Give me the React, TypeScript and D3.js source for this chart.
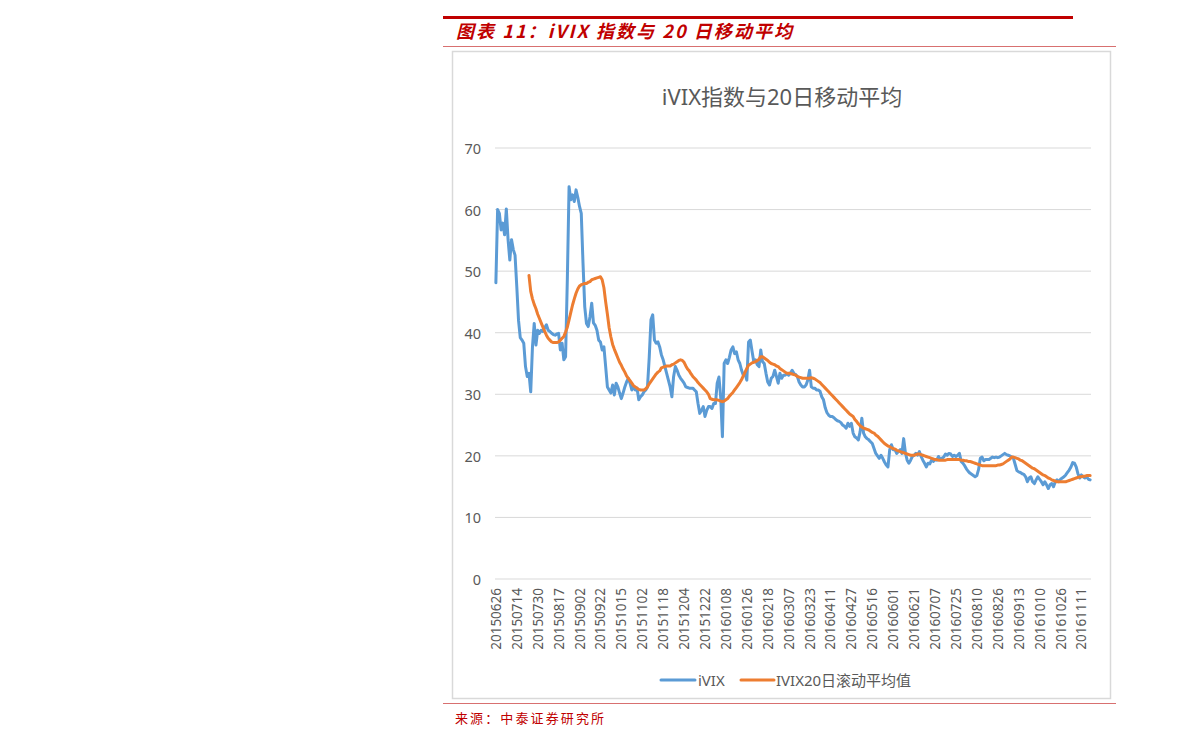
import React from 'react';
import * as d3 from 'd3';

// Category-axis labels (every 12th trading day is labelled)
const tickLabels = [
  '20150626', '20150714', '20150730', '20150817', '20150902', '20150922',
  '20151015', '20151102', '20151118', '20151204', '20151222', '20160108',
  '20160126', '20160218', '20160307', '20160323', '20160411', '20160427',
  '20160516', '20160601', '20160621', '20160707', '20160725', '20160810',
  '20160826', '20160913', '20161010', '20161026', '20161111',
];
const tickEvery = 12;

const yTicks = [0, 10, 20, 30, 40, 50, 60, 70];

// iVIX daily values
const ivix = [
  48.1, 60.0, 59.4, 56.7, 57.8, 55.9, 60.1, 55.1, 51.8, 55.1,
  53.5, 52.6, 47.5, 42.0, 39.2, 38.8, 38.3, 34.5, 32.9,
  33.4, 30.4, 37.7, 41.5, 38.0, 40.4, 39.9, 40.4, 40.2, 40.8,
  41.3, 40.4, 40.2, 39.9, 39.7, 39.6, 39.8, 39.9, 37.2,
  38.3, 35.6, 36.1, 48.6, 63.7, 61.6, 62.4, 61.3, 63.2, 62.0,
  60.5, 59.4, 51.3, 44.2, 41.5, 41.0, 42.6, 44.8, 41.6, 41.2,
  40.4, 38.8, 38.5, 37.2, 37.7, 34.5, 31.2, 30.7, 30.2,
  31.5, 29.9, 31.8, 31.2, 30.2, 29.3, 30.2, 31.2, 32.0, 32.6,
  31.8, 30.7, 31.2, 30.7, 31.0, 29.1, 29.6, 29.9, 30.4, 30.7,
  31.2, 36.0, 42.1, 42.9, 38.8, 38.3, 38.5, 37.7, 36.4,
  35.6, 34.5, 33.4, 32.3, 31.2, 29.6, 32.9, 34.5, 33.9, 33.1,
  32.6, 32.2, 31.8, 31.2, 31.1, 31.0, 31.0, 31.0, 30.7, 30.4,
  28.5, 26.9, 27.4, 28.0, 26.4, 27.4, 28.0, 28.0, 27.7,
  28.5, 28.5, 31.8, 32.8, 29.6, 23.1, 35.0, 35.6, 35.0, 36.0,
  37.2, 37.7, 36.6, 36.9, 35.6, 35.0, 33.9, 33.1, 33.4, 32.3,
  38.5, 38.8, 37.0, 35.3, 35.6, 34.8, 34.5, 37.2, 35.3,
  35.0, 33.4, 32.0, 31.5, 32.6, 32.9, 33.9, 32.9, 31.8, 33.4,
  32.6, 33.1, 33.1, 33.4, 33.1, 33.4, 33.9, 33.4, 33.2, 32.9,
  32.0, 31.5, 31.2, 31.2, 31.5, 32.3, 33.9, 31.2, 31.0,
  31.0, 30.7, 30.7, 30.5, 29.6, 29.1, 27.8, 27.0, 26.6, 26.4,
  26.4, 26.2, 25.9, 25.7, 25.6, 25.4, 25.0, 24.8, 24.5, 25.3,
  24.8, 25.3, 23.7, 23.1, 22.9, 22.6, 23.9, 26.1, 23.7,
  23.1, 22.8, 22.6, 22.3, 22.0, 21.2, 20.4, 20.0, 19.6, 20.1,
  19.6, 19.0, 18.5, 18.2, 21.0, 21.8, 21.0, 21.0, 20.4, 20.7,
  21.0, 20.4, 22.8, 20.5, 19.3, 18.8, 19.3, 19.9, 20.1,
  20.4, 20.1, 20.7, 19.9, 19.3, 18.8, 18.2, 18.8, 18.7, 19.3,
  19.1, 19.4, 19.3, 19.9, 19.4, 19.6, 19.8, 20.3, 20.1, 20.4,
  20.3, 19.9, 20.1, 19.9, 20.1, 20.4, 19.1, 18.8, 18.4,
  17.9, 17.5, 17.2, 17.0, 16.8, 16.6, 16.8, 17.8, 19.6, 19.8,
  19.2, 19.4, 19.4, 19.4, 19.6, 19.8, 19.7, 19.8, 19.7, 19.8,
  20.0, 20.2, 20.4, 20.2, 20.1, 20.0, 19.8, 19.6, 18.6,
  17.6, 17.4, 17.3, 17.1, 17.0, 16.6, 15.8, 16.4, 16.6, 15.8,
  15.5, 16.1, 16.6, 16.2, 15.8, 15.3, 15.8, 15.3, 14.7, 15.3,
  15.5, 15.0, 15.8, 16.1, 15.8, 16.2, 16.4, 16.6, 16.9,
  17.3, 17.7, 18.2, 18.9, 18.8, 18.2, 17.1, 16.4, 16.9, 16.6,
  16.4, 16.6, 16.2, 16.1,
];

// iVIX 20-day rolling mean (undefined for the first 19 days)
const ivixMA: (number | null)[] = [
  null, null, null, null, null, null, null, null, null, null,
  null, null, null, null, null, null, null, null, null, 49.3,
  46.7, 45.5, 44.6, 43.9, 43.0, 42.3, 41.6, 40.9, 40.2,
  39.6, 39.1, 38.8, 38.5, 38.4, 38.4, 38.4, 38.5, 38.8,
  39.1, 39.4, 40.1, 40.9, 42.1, 43.3, 44.5, 45.5, 46.4, 47.1,
  47.6, 47.8, 47.9, 48.0, 48.0, 48.2, 48.3, 48.6, 48.7, 48.8,
  48.9, 49.0, 49.1, 48.6, 47.3, 45.0, 43.0, 40.8, 39.3,
  38.1, 37.3, 36.6, 35.9, 35.2, 34.7, 34.1, 33.6, 33.0, 32.6,
  32.2, 31.8, 31.4, 31.2, 31.0, 30.8, 30.7, 30.7, 30.7, 30.9,
  31.2, 31.7, 32.1, 32.5, 32.9, 33.3, 33.6, 33.8, 34.3,
  34.4, 34.5, 34.6, 34.6, 34.6, 34.8, 34.9, 35.1, 35.3, 35.5,
  35.6, 35.5, 35.2, 34.6, 34.1, 33.8, 33.3, 32.9, 32.6, 32.3,
  31.9, 31.6, 31.3, 31.0, 30.7, 30.4, 30.0, 29.3, 29.2,
  29.1, 29.1, 29.1, 29.0, 28.9, 28.8, 28.9, 29.1, 29.3, 29.7,
  30.0, 30.3, 30.7, 31.1, 31.5, 31.9, 32.4, 33.0, 33.6, 34.2,
  34.7, 34.9, 35.1, 35.2, 35.3, 35.5, 35.7, 36.1, 36.1,
  35.9, 35.7, 35.5, 35.2, 35.0, 34.9, 34.8, 34.6, 34.5, 34.2,
  34.0, 33.8, 33.6, 33.4, 33.4, 33.4, 33.3, 33.2, 33.1, 32.9,
  32.8, 32.7, 32.6, 32.6, 32.6, 32.6, 32.6, 32.7, 32.6,
  32.5, 32.3, 32.1, 31.9, 31.6, 31.3, 31.0, 30.7, 30.4, 30.1,
  29.8, 29.5, 29.2, 28.9, 28.6, 28.3, 28.0, 27.7, 27.4, 27.1,
  26.8, 26.6, 26.4, 25.9, 25.6, 25.2, 24.9, 24.7, 24.5,
  24.4, 24.3, 24.2, 24.0, 23.8, 23.7, 23.4, 23.2, 22.9, 22.6,
  22.3, 22.0, 21.8, 21.6, 21.5, 21.3, 21.2, 21.1, 20.9, 20.8,
  20.7, 20.6, 20.5, 20.4, 20.3, 20.2, 20.1, 20.1, 20.1,
  20.2, 20.3, 20.3, 20.2, 20.1, 20.0, 19.9, 19.8, 19.7, 19.6,
  19.5, 19.4, 19.4, 19.3, 19.3, 19.3, 19.3, 19.3, 19.4, 19.4,
  19.4, 19.4, 19.4, 19.4, 19.4, 19.4, 19.3, 19.3, 19.2,
  19.2, 19.1, 19.1, 19.0, 18.9, 18.8, 18.7, 18.6, 18.5, 18.4,
  18.4, 18.4, 18.4, 18.4, 18.4, 18.4, 18.4, 18.4, 18.5, 18.5,
  18.6, 18.7, 18.9, 19.1, 19.3, 19.5, 19.8, 19.8, 19.7,
  19.6, 19.5, 19.3, 19.2, 19.0, 18.8, 18.6, 18.4, 18.2, 18.0,
  17.9, 17.7, 17.5, 17.3, 17.1, 16.9, 16.8, 16.6, 16.4, 16.3,
  16.1, 16.0, 15.9, 15.8, 15.8, 15.8, 15.8, 15.8, 15.8,
  15.9, 16.0, 16.1, 16.2, 16.3, 16.4, 16.5, 16.6, 16.6, 16.7,
  16.7, 16.8, 16.8, 16.8,
];

const seriesNames = ['iVIX', 'IVIX20日滚动平均值'];
const seriesColors = ['#5B9BD5', '#ED7D31'];

const headerTitle = '图表 11：iVIX 指数与 20 日移动平均';
const chartTitle = 'iVIX指数与20日移动平均';
const sourceText = '来源：中泰证券研究所';

const FONT = "'Noto Sans', 'Noto Sans CJK SC', sans-serif";
const CJK = "'Noto Sans CJK SC', sans-serif";

export default function App() {
  const W = 1191;
  const H = 747;
  const plot = { left: 495, right: 1091, top: 148, bottom: 579 };

  const x = d3
    .scaleBand<number>()
    .domain(d3.range(ivix.length))
    .range([plot.left, plot.right])
    .padding(0);
  const cx = (i: number) => (x(i) as number) + x.bandwidth() / 2;
  const y = d3.scaleLinear().domain([0, 70]).range([plot.bottom, plot.top]);

  const ivixPath = d3
    .line<number>()
    .x((_, i) => cx(i))
    .y((d) => y(d))(ivix) as string;
  const maPath = d3
    .line<number | null>()
    .defined((d) => d != null)
    .x((_, i) => cx(i))
    .y((d) => y(d as number))(ivixMA) as string;

  const gray = '#595959';

  return (
    <svg
      width={W}
      height={H}
      viewBox={`0 0 ${W} ${H}`}
      style={{ position: 'absolute', left: 0, top: 0, background: '#fff' }}
    >
      <rect x={0} y={0} width={W} height={H} fill="#fff" />
      {/* Report header */}
      <line x1={443} x2={1073} y1={17.5} y2={17.5} stroke="#C00000" strokeWidth={3} />
      <text
        x={456}
        y={38}
        fontFamily={CJK}
        fontSize={18}
        fontStyle="italic"
        fontWeight="bold"
        fill="#C00000"
        textLength={336}
        lengthAdjust="spacing"
      >
        {headerTitle}
      </text>
      <line x1={443} x2={1116} y1={46.5} y2={46.5} stroke="#D87070" strokeWidth={1} />

      {/* Chart frame */}
      <rect x={452.5} y={51.5} width={658} height={647} fill="#fff" stroke="#D9D9D9" strokeWidth={1.5} />

      <text x={782} y={105} textAnchor="middle" fontFamily={FONT} fontSize={22} fill={gray}>
        {chartTitle}
      </text>

      {/* Gridlines and y axis */}
      {yTicks.map((t) => (
        <g key={t}>
          <line x1={plot.left} x2={plot.right} y1={y(t)} y2={y(t)} stroke="#D9D9D9" strokeWidth={1} />
          <text
            x={481}
            y={y(t)}
            textAnchor="end"
            dominantBaseline="central"
            fontFamily={FONT}
            fontSize={14.5}
            fill={gray}
          >
            {t}
          </text>
        </g>
      ))}

      {/* X axis labels */}
      {tickLabels.map((lab, k) => {
        const px = cx(k * tickEvery);
        return (
          <text
            key={lab}
            transform={`translate(${px},588) rotate(-90)`}
            textAnchor="end"
            dominantBaseline="central"
            fontFamily={FONT}
            fontSize={13.5}
            fill={gray}
          >
            {lab}
          </text>
        );
      })}

      {/* Series */}
      <path d={ivixPath} fill="none" stroke={seriesColors[0]} strokeWidth={3} strokeLinejoin="round" strokeLinecap="round" />
      <path d={maPath} fill="none" stroke={seriesColors[1]} strokeWidth={3} strokeLinejoin="round" strokeLinecap="round" />

      {/* Legend */}
      <line x1={661} x2={695} y1={680} y2={680} stroke={seriesColors[0]} strokeWidth={3} strokeLinecap="round" />
      <text x={698} y={680} dominantBaseline="central" fontFamily={FONT} fontSize={15} fill={gray}>
        {seriesNames[0]}
      </text>
      <line x1={741} x2={774} y1={680} y2={680} stroke={seriesColors[1]} strokeWidth={3} strokeLinecap="round" />
      <text x={776} y={680} dominantBaseline="central" fontFamily={FONT} fontSize={15} fill={gray}>
        {seriesNames[1]}
      </text>

      {/* Footer */}
      <line x1={443} x2={1116} y1={703.5} y2={703.5} stroke="#D87070" strokeWidth={1} />
      <text
        x={455}
        y={723}
        fontFamily={CJK}
        fontSize={13}
        fill="#C00000"
        textLength={149}
        lengthAdjust="spacing"
      >
        {sourceText}
      </text>
    </svg>
  );
}
